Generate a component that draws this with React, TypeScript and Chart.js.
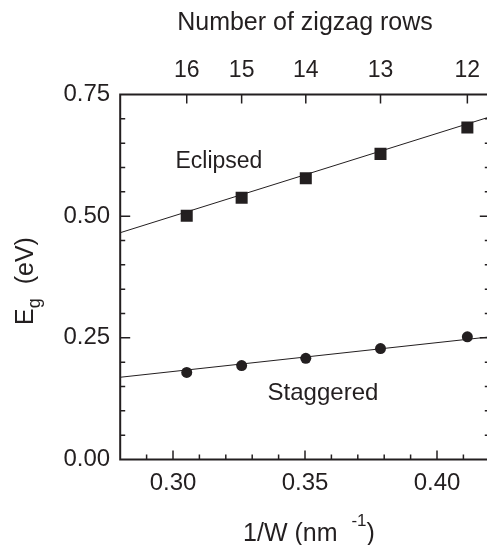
import React, { useEffect, useRef } from 'react';
import { Chart, registerables } from 'chart.js';

Chart.register(...registerables);

// ---- data ----
const zigzagRows = [16, 15, 14, 13, 12];
const invW = [0.3052, 0.326, 0.3503, 0.3786, 0.4115];
const eclipsed = [0.501, 0.538, 0.578, 0.628, 0.682];
const staggered = [0.179, 0.193, 0.208, 0.228, 0.252];
const fitX = [0.28, 0.42];
const eclipsedFit = [0.466, 0.704];
const staggeredFit = [0.169, 0.252];
const xTicks = [0.3, 0.35, 0.4];
const yTicks = [0, 0.25, 0.5, 0.75];
const xMinorStep = 0.01;
const yMinorStep = 0.05;

const INK = '#231f20';
const FONT = '"Liberation Sans", Arial, Helvetica, sans-serif';
const FS = 23;
const TS = 25;

function drawParts(ctx: CanvasRenderingContext2D, parts: { t: string; s: number; dy: number }[], cx: number, by: number) {
  let total = 0;
  const widths = parts.map((p) => {
    ctx.font = `${p.s}px ${FONT}`;
    const w = ctx.measureText(p.t).width;
    total += w;
    return w;
  });
  let x = cx - total / 2;
  ctx.textAlign = 'left';
  ctx.textBaseline = 'alphabetic';
  parts.forEach((p, i) => {
    ctx.font = `${p.s}px ${FONT}`;
    ctx.fillText(p.t, x, by + p.dy);
    x += widths[i];
  });
}

const framePlugin = {
  id: 'frame',
  afterDraw(chart: any) {
    const { ctx, chartArea: a, scales } = chart;
    const xs = scales.x;
    const ys = scales.y;
    ctx.save();
    ctx.strokeStyle = INK;
    ctx.fillStyle = INK;
    // frame
    ctx.lineWidth = 2;
    ctx.strokeRect(a.left, a.top, a.right - a.left, a.bottom - a.top);
    ctx.lineWidth = 1.5;
    // y ticks, both sides, inward
    const ny = Math.round((ys.max - ys.min) / yMinorStep);
    for (let i = 1; i < ny; i++) {
      const v = ys.min + i * yMinorStep;
      const py = ys.getPixelForValue(v);
      const major = yTicks.some((t) => Math.abs(t - v) < 1e-6);
      const len = major ? 10 : 5;
      ctx.beginPath();
      ctx.moveTo(a.left, py);
      ctx.lineTo(a.left + len, py);
      ctx.moveTo(a.right, py);
      ctx.lineTo(a.right - len, py);
      ctx.stroke();
    }
    // bottom x ticks inward
    const nx = Math.round((xs.max - xs.min) / xMinorStep);
    for (let i = 1; i < nx; i++) {
      const v = xs.min + i * xMinorStep;
      const px = xs.getPixelForValue(v);
      const major = xTicks.some((t) => Math.abs(t - v) < 1e-6);
      const len = major ? 9 : 5;
      ctx.beginPath();
      ctx.moveTo(px, a.bottom);
      ctx.lineTo(px, a.bottom - len);
      ctx.stroke();
    }
    // top ticks (zigzag rows)
    invW.forEach((v) => {
      const px = xs.getPixelForValue(v);
      ctx.beginPath();
      ctx.moveTo(px, a.top);
      ctx.lineTo(px, a.top + 9);
      ctx.stroke();
    });
    // annotations
    ctx.font = `${FS}px ${FONT}`;
    ctx.textAlign = 'center';
    ctx.textBaseline = 'alphabetic';
    ctx.fillText('Eclipsed', xs.getPixelForValue(0.3174), ys.getPixelForValue(0.599));
    ctx.font = `${FS + 1}px ${FONT}`;
    ctx.fillText('Staggered', xs.getPixelForValue(0.3568), ys.getPixelForValue(0.122));
    // top title
    ctx.font = `${TS}px ${FONT}`;
    ctx.fillText('Number of zigzag rows', (a.left + a.right) / 2, 30);
    // bottom title
    drawParts(
      ctx,
      [
        { t: '1/W (nm  ', s: TS, dy: 0 },
        { t: '-1', s: 17, dy: -15 },
        { t: ')', s: TS, dy: 0 },
      ],
      (a.left + a.right) / 2 + 4,
      541
    );
    // y title (rotated)
    ctx.save();
    ctx.translate(33, (a.top + a.bottom) / 2 + 4);
    ctx.rotate(-Math.PI / 2);
    drawParts(
      ctx,
      [
        { t: 'E', s: TS, dy: 0 },
        { t: 'g', s: 18, dy: 7 },
        { t: '  (eV)', s: TS, dy: 0 },
      ],
      0,
      0
    );
    ctx.restore();
    ctx.restore();
  },
};

export default function App() {
  const ref = useRef<HTMLCanvasElement | null>(null);
  useEffect(() => {
    document.body.style.margin = '0';
    document.body.style.overflow = 'hidden';
    const canvas = ref.current;
    if (!canvas) return;
    const tickFont = { family: FONT, size: 24 };
    const topFont = { family: FONT, size: FS };
    const noGrid = { display: false, drawTicks: false, tickLength: 0 };
    const chart = new Chart(canvas, {
      type: 'scatter',
      data: {
        datasets: [
          {
            label: 'Eclipsed fit',
            data: fitX.map((x, i) => ({ x, y: eclipsedFit[i] })),
            showLine: true,
            pointRadius: 0,
            borderColor: INK,
            borderWidth: 1,
          },
          {
            label: 'Staggered fit',
            data: fitX.map((x, i) => ({ x, y: staggeredFit[i] })),
            showLine: true,
            pointRadius: 0,
            borderColor: INK,
            borderWidth: 1,
          },
          {
            label: 'Eclipsed',
            data: invW.map((x, i) => ({ x, y: eclipsed[i] })),
            pointStyle: 'rect',
            pointRadius: 8.5,
            backgroundColor: INK,
            borderColor: INK,
            borderWidth: 0,
          },
          {
            label: 'Staggered',
            data: invW.map((x, i) => ({ x, y: staggered[i] })),
            pointStyle: 'circle',
            pointRadius: 5.5,
            backgroundColor: INK,
            borderColor: INK,
            borderWidth: 0,
          },
        ],
      },
      options: {
        animation: false,
        responsive: false,
        events: [],
        layout: { padding: { left: 0, right: 10.2, top: 0, bottom: 0 } },
        plugins: { legend: { display: false }, tooltip: { enabled: false }, title: { display: false } },
        scales: {
          x: {
            type: 'linear',
            position: 'bottom',
            min: 0.28,
            max: 0.42,
            grid: noGrid,
            border: { display: false },
            afterBuildTicks: (s: any) => {
              s.ticks = xTicks.map((v) => ({ value: v }));
            },
            afterFit: (s: any) => {
              s.height = 85.5;
            },
            ticks: {
              color: INK,
              font: tickFont,
              padding: 9,
              maxRotation: 0,
              autoSkip: false,
              callback: (v: any) => Number(v).toFixed(2),
            },
          },
          x2: {
            type: 'linear',
            position: 'top',
            min: 0.28,
            max: 0.42,
            grid: noGrid,
            border: { display: false },
            afterBuildTicks: (s: any) => {
              s.ticks = invW.map((v) => ({ value: v }));
            },
            afterFit: (s: any) => {
              s.height = 94.5;
            },
            ticks: {
              color: INK,
              font: topFont,
              padding: 10.5,
              maxRotation: 0,
              autoSkip: false,
              callback: (_v: any, i: number) => String(zigzagRows[i]),
            },
          },
          y: {
            type: 'linear',
            min: 0,
            max: 0.75,
            grid: noGrid,
            border: { display: false },
            afterBuildTicks: (s: any) => {
              s.ticks = yTicks.map((v) => ({ value: v }));
            },
            afterFit: (s: any) => {
              s.width = 120.2;
            },
            ticks: {
              color: INK,
              font: tickFont,
              padding: 10,
              autoSkip: false,
              callback: (v: any) => Number(v).toFixed(2),
            },
          },
        },
      },
      plugins: [framePlugin],
    } as any);
    return () => chart.destroy();
  }, []);
  return (
    <div style={{ width: 500, height: 545, overflow: 'hidden' }}>
      <canvas ref={ref} width={500} height={545} style={{ display: 'block' }} />
    </div>
  );
}
